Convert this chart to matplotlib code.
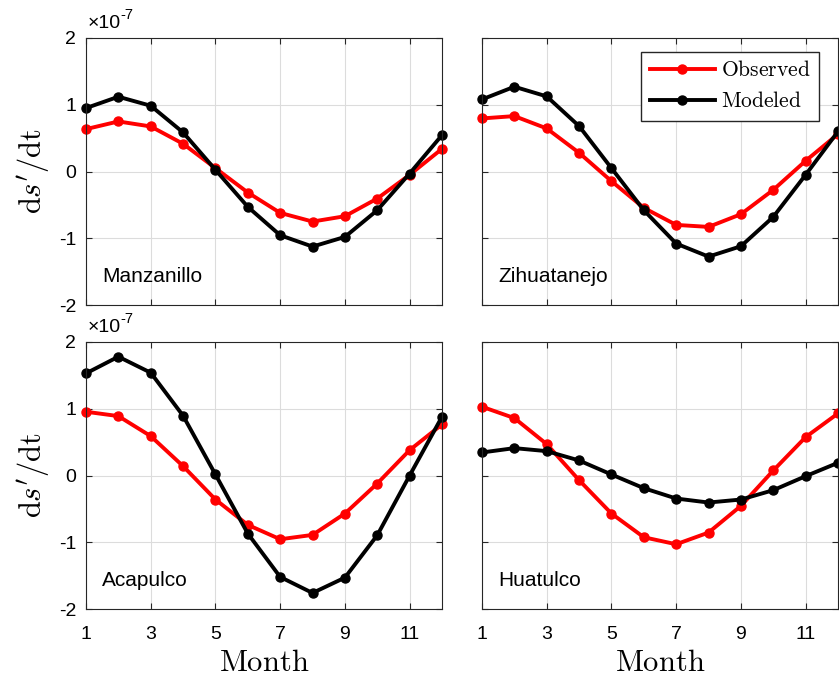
import numpy as np
import matplotlib
matplotlib.use("Agg")
import matplotlib.pyplot as plt
from matplotlib.ticker import FuncFormatter

plt.rcParams['font.family'] = ['Liberation Sans', 'DejaVu Sans']
plt.rcParams['mathtext.fontset'] = 'cm'
plt.rcParams['axes.unicode_minus'] = False

months = np.arange(1, 13)
stations = ["Manzanillo", "Zihuatanejo", "Acapulco", "Huatulco"]

# values in units of 1e-7
obs_manzanillo = [0.635, 0.75, 0.675, 0.415, 0.05, -0.315, -0.62, -0.75, -0.67, -0.405, -0.05, 0.34]
mod_manzanillo = [0.95, 1.12, 0.985, 0.585, 0.025, -0.53, -0.955, -1.125, -0.98, -0.58, -0.03, 0.545]
obs_zihuatanejo = [0.795, 0.83, 0.645, 0.28, -0.145, -0.545, -0.8, -0.83, -0.64, -0.275, 0.16, 0.56]
mod_zihuatanejo = [1.08, 1.27, 1.125, 0.68, 0.05, -0.58, -1.08, -1.275, -1.12, -0.68, -0.05, 0.6]
obs_acapulco = [0.955, 0.89, 0.59, 0.14, -0.36, -0.74, -0.955, -0.89, -0.57, -0.12, 0.38, 0.765]
mod_acapulco = [1.53, 1.78, 1.54, 0.895, 0.015, -0.87, -1.52, -1.76, -1.53, -0.895, 0.0, 0.88]
obs_huatulco = [1.03, 0.86, 0.47, -0.07, -0.57, -0.925, -1.03, -0.855, -0.455, 0.075, 0.575, 0.93]
mod_huatulco = [0.345, 0.41, 0.365, 0.225, 0.015, -0.19, -0.345, -0.405, -0.36, -0.22, -0.01, 0.19]

observed = [obs_manzanillo, obs_zihuatanejo, obs_acapulco, obs_huatulco]
modeled = [mod_manzanillo, mod_zihuatanejo, mod_acapulco, mod_huatulco]
scale = 1e-7

W, H = 839, 677
fig = plt.figure(figsize=(W / 100, H / 100), dpi=100)

# axes boxes in pixels: left, top, right, bottom
boxes = [(86, 38, 442, 305), (482, 38, 838, 305),
         (86, 342, 442, 609), (482, 342, 838, 609)]

spine_col = '#262626'
fmt = FuncFormatter(lambda v, pos: f"{v / scale:.0f}".replace('−', '-'))

for i, (l, t, r, b) in enumerate(boxes):
    ax = fig.add_axes([l / W, 1 - b / H, (r - l) / W, (b - t) / H])
    obs = np.array(observed[i]) * scale
    mod = np.array(modeled[i]) * scale
    ax.plot(months, obs, '-o', color='red', lw=2.8, ms=6.5, label=r'$\mathrm{Observed}$',
            clip_on=False)
    ax.plot(months, mod, '-o', color='black', lw=2.8, ms=6.5, label=r'$\mathrm{Modeled}$',
            clip_on=False)

    ax.set_xlim(1, 12)
    ax.set_ylim(-2e-7, 2e-7)
    ax.set_xticks([1, 3, 5, 7, 9, 11])
    ax.set_yticks(np.array([-2, -1, 0, 1, 2]) * scale)
    ax.yaxis.set_major_formatter(fmt)
    ax.grid(True, color='#dcdcdc', lw=0.8)
    ax.set_axisbelow(True)
    ax.tick_params(direction='in', top=True, right=True, labelsize=14,
                   colors=spine_col, labelcolor='black', length=4, width=0.8)
    ax.tick_params(axis='x', pad=12)
    ax.tick_params(axis='y', pad=7)
    for s in ax.spines.values():
        s.set_color(spine_col)
        s.set_linewidth(0.8)

    ax.text(0.045, 0.088, stations[i], transform=ax.transAxes, fontsize=15)

    if i % 2 == 1:
        ax.tick_params(labelleft=False)
    else:
        ax.set_ylabel(r"$\mathrm{d}s'/\mathrm{dt}$", fontsize=22, labelpad=5)
        # exponent label
        ax.annotate('×10', xy=(0, 1), xycoords='axes fraction', xytext=(1, 4),
                    textcoords='offset points', fontsize=14, ha='left', va='bottom')
        ax.annotate('-7', xy=(0, 1), xycoords='axes fraction', xytext=(25, 11.5),
                    textcoords='offset points', fontsize=10.5, ha='left', va='bottom')
    if i < 2:
        ax.tick_params(labelbottom=False)
    else:
        ax.set_xlabel(r'$\mathrm{Month}$', fontsize=22, labelpad=4)
    if i == 1:
        ax.legend(loc='upper right', bbox_to_anchor=(0.947, 0.948), borderaxespad=0,
                  fontsize=15.5, handlelength=3.0, fancybox=False, framealpha=1,
                  edgecolor=spine_col, borderpad=0.4, labelspacing=0.45,
                  handletextpad=0.3)

fig.savefig('out.png', dpi=100)
